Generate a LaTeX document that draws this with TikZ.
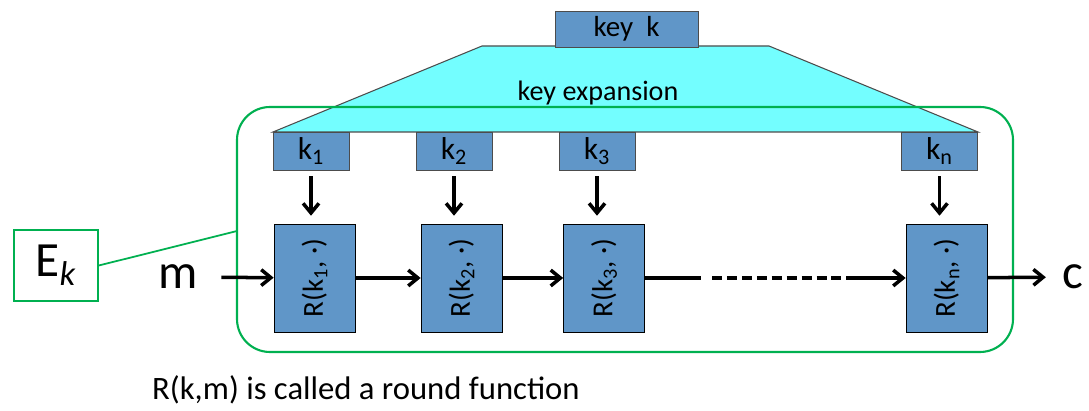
\documentclass[tikz,border=0pt]{standalone}
\usepackage{fontspec}
\setmainfont{Carlito}
\usetikzlibrary{arrows.meta}

\definecolor{boxblue}{RGB}{96,150,200}
\definecolor{keycyan}{RGB}{115,254,255}
\definecolor{encgreen}{RGB}{0,176,80}

\tikzset{
  keybox/.style={draw=black!70, fill=boxblue, minimum width=1.52cm, minimum height=0.76cm, inner sep=0pt, font=\fontsize{18}{20}\selectfont},
  roundbox/.style={draw=black, fill=boxblue, minimum width=1.62cm, minimum height=2.16cm, inner sep=0pt, font=\fontsize{16.5}{18}\selectfont},
  big/.style={font=\fontsize{28}{32}\selectfont},
  flow/.style={-{Straight Barb[length=5.5pt, width=9pt]}, line width=2pt}
}

\begin{document}
\begin{tikzpicture}[x=0.02cm, y=-0.02cm]
\useasboundingbox (0,0) rectangle (1089,411);

\filldraw[fill=keycyan, draw=black!70, line width=0.6pt]
  (273,132) -- (482,46) -- (769,46) -- (978,132) -- cycle;
\node[font=\fontsize{16}{18}\selectfont] (exp) at (598,93) {key expansion};
\node[keybox, minimum width=2.86cm, minimum height=0.72cm, font=\fontsize{16.5}{18}\selectfont] (key) at (626.5,29) {key~~k};

\draw[encgreen, line width=1.2pt, rounded corners=0.66cm] (237,107) rectangle (1013,352);

\node[keybox] (k1) at (311,151) {k\textsubscript{1}};
\node[keybox] (k2) at (454,151) {k\textsubscript{2}};
\node[keybox] (k3) at (597,151) {k\textsubscript{3}};
\node[keybox] (kn) at (939.5,151) {k\textsubscript{n}};

\node[roundbox] (r1) at (314.5,278) {\rotatebox{90}{R(k\textsubscript{1}, ·)}};
\node[roundbox] (r2) at (461.5,278) {\rotatebox{90}{R(k\textsubscript{2}, ·)}};
\node[roundbox] (r3) at (604,278) {\rotatebox{90}{R(k\textsubscript{3}, ·)}};
\node[roundbox] (rn) at (946.5,278) {\rotatebox{90}{R(k\textsubscript{n}, ·)}};

\node[big] (m) at (178,277) {m};
\node[big] (c) at (1073,277) {c};
\node[big, draw=encgreen, line width=1pt, minimum width=1.68cm, minimum height=1.42cm, inner sep=0pt] (ek) at (56,265.5) {E\textsubscript{\itshape k}};
\coordinate (edge) at (237,231);
\draw[encgreen, line width=1pt] (ek.east) -- (edge);

\foreach \k/\r in {k1/r1, k2/r2, k3/r3, kn/rn}
  \draw[flow, shorten <=3.5pt, shorten >=4.5pt] (\k.south) -- (\k.south |- \r.north);

% the rounds between k3 and kn are left out
\coordinate (d1) at (701,278);
\coordinate (d2) at (712,278);
\coordinate (d3) at (852,278);
\draw[flow, shorten <=10pt] (m) -- (r1);
\draw[flow] (r1) -- (r2);
\draw[flow] (r2) -- (r3);
\draw[line width=2pt] (r3) -- (d1);
\draw[line width=2pt, dash pattern=on 5.7pt off 2.8pt] (d2) -- (d3);
\draw[flow] (d3) -- (rn);
\draw[flow, shorten >=6pt] (rn) -- (c);

\node[anchor=west, font=\fontsize{18.6}{22}\selectfont] (note) at (146,390) {R(k,m) is called a round function};
\end{tikzpicture}
\end{document}
